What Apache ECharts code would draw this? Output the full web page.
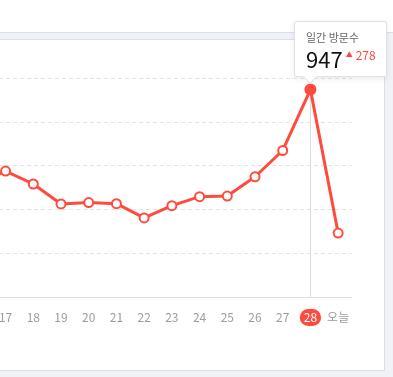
<!DOCTYPE html>
<html><head><meta charset="utf-8">
<script src="https://cdn.jsdelivr.net/npm/echarts@6/dist/echarts.min.js"></script>
<style>
html,body{margin:0;padding:0;background:#fff;width:393px;height:377px;overflow:hidden;font-family:"Noto Sans CJK KR","Noto Sans",sans-serif;}
#bg{position:absolute;left:0;top:32px;width:393px;height:345px;background:#f0f2f7;border-top:1px solid #d8dfe9;box-sizing:border-box;}
#card{position:absolute;left:-10px;top:39px;width:395px;height:332px;background:#fff;border:1px solid #d8dfe9;box-sizing:border-box;}
#chart{position:absolute;left:-36px;top:0;width:429px;height:377px;}
</style></head>
<body>
<div id="bg"></div><div id="card"></div>
<div id="chart"></div>
<script>
// ---- data ----
const categories = ['16','17','18','19','20','21','22','23','24','25','26','27','28','오늘'];
const visits = [518, 575, 516, 425, 431, 426, 361, 417, 458, 461, 549, 669, 947, 292];
const highlightCategory = '28';
const tooltipTitle = '일간 방문수';
const yMin = 0, yMax = 1000, yInterval = 200;

const RED = '#ff4b3e';
const FONT = '"Noto Sans CJK KR","Noto Sans",sans-serif';
const hi = categories.indexOf(highlightCategory);

const seriesData = visits.map((v, i) => i === hi
  ? { value: v, symbol: 'circle', symbolSize: 10, itemStyle: { color: RED, borderColor: RED } }
  : v);

const chart = echarts.init(document.getElementById('chart'), null, { renderer: 'canvas' });
chart.setOption({
  animation: false,
  backgroundColor: 'transparent',
  textStyle: { fontFamily: FONT },
  grid: { left: 0, right: 41, top: 78, bottom: 80, containLabel: false },
  xAxis: {
    type: 'category',
    data: categories,
    boundaryGap: true,
    axisLine: { show: true, lineStyle: { color: '#e0e0e0', width: 1 } },
    axisTick: { show: false },
    splitLine: { show: false },
    axisLabel: {
      interval: 0,
      margin: 12,
      formatter: v => v === highlightCategory ? '{hl|' + v + '}' : '{n|' + v + '}',
      rich: {
        n: { color: '#9c9c9c', fontSize: 12, lineHeight: 17, height: 17, fontFamily: FONT },
        hl: { color: '#fff', fontSize: 12, lineHeight: 17, height: 17, padding: [0, 4], borderRadius: 9,
              backgroundColor: RED, fontFamily: FONT }
      }
    }
  },
  yAxis: {
    type: 'value',
    min: yMin, max: yMax, interval: yInterval,
    axisLabel: { show: false },
    axisLine: { show: false },
    axisTick: { show: false },
    splitLine: { show: true, lineStyle: { color: '#e4e4e4', type: [4, 3], width: 1 } }
  },
  tooltip: {
    trigger: 'item',
    alwaysShowContent: true,
    showContent: true,
    transitionDuration: 0,
    position: [330, 21],
    padding: 0,
    backgroundColor: '#fff',
    borderColor: '#dde2ea',
    borderWidth: 1,
    borderRadius: 2,
    extraCssText: 'box-shadow:0 2px 6px rgba(0,0,0,0.08);overflow:visible;',
    formatter: p => {
      const i = p.dataIndex;
      const v = visits[i];
      const d = v - visits[i - 1];
      return '<div style="position:relative;width:91px;height:54px;box-sizing:border-box;padding:8px 0 0 11px;font-family:' + FONT.replace(/"/g, "'") + ';">' +
        '<div style="font-size:11px;line-height:14px;color:#666;">' + tooltipTitle + '</div>' +
        '<div style="line-height:24px;white-space:nowrap;">' +
          '<span style="font-size:22px;color:#111;vertical-align:middle;">' + v + '</span>' +
          '<span style="font-size:7px;color:' + RED + ';vertical-align:middle;margin-left:3px;position:relative;top:-4px;">▲</span>' +
          '<span style="font-size:12px;color:' + RED + ';vertical-align:middle;margin-left:3px;position:relative;top:-3px;">' + d + '</span>' +
        '</div>' +
        '<div style="position:absolute;left:10px;bottom:-6px;width:9px;height:9px;background:#fff;border-right:1px solid #dde2ea;border-bottom:1px solid #dde2ea;transform:rotate(45deg);"></div>' +
      '</div>';
    }
  },
  series: [{
    type: 'line',
    data: seriesData,
    symbol: 'emptyCircle',
    symbolSize: 9,
    showAllSymbol: true,
    lineStyle: { color: RED, width: 3 },
    itemStyle: { color: RED, borderWidth: 2 },
    emphasis: { disabled: true },
    markLine: {
      z: 1,
      silent: true,
      symbol: ['none', 'none'],
      label: { show: false },
      lineStyle: { color: '#dcdcdc', type: 'solid', width: 1 },
      data: [{ xAxis: highlightCategory }]
    }
  }]
});
chart.dispatchAction({ type: 'showTip', seriesIndex: 0, dataIndex: hi });
</script>
</body></html>
